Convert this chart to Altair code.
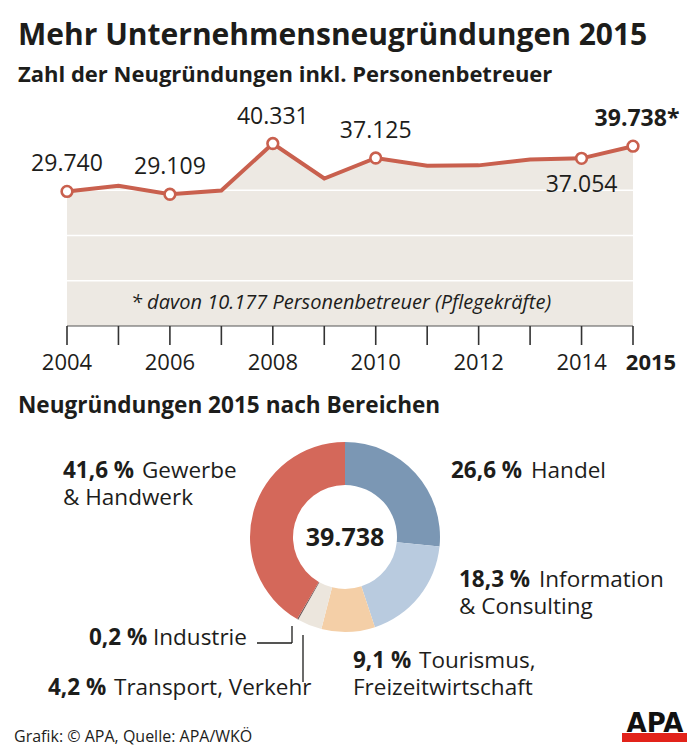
import altair as alt
import pandas as pd

# ---------------- data ----------------
years = list(range(2004, 2016))
values = [29740, 31000, 29109, 29950, 40331, 32600, 37125, 35400, 35500, 36800, 37054, 39738]
marked_years = [2004, 2006, 2008, 2010, 2014, 2015]
above_years = [2004, 2006, 2008, 2010]
above_labels = ["29.740", "29.109", "40.331", "37.125"]
below_years = [2014]
below_labels = ["37.054"]
last_year = [2015]
last_label = ["39.738*"]
tick_label_years = [2004, 2006, 2008, 2010, 2012, 2014]
tick_label_texts = ["2004", "2006", "2008", "2010", "2012", "2014"]
grid_values = [10000, 20000, 30000]

sectors = ["Handel", "Information & Consulting", "Tourismus, Freizeitwirtschaft",
           "Transport, Verkehr", "Industrie", "Gewerbe & Handwerk"]
shares = [26.6, 18.3, 9.1, 4.2, 0.2, 41.6]
share_texts = ["26,6 %", "18,3 %", "9,1 %", "4,2 %", "0,2 %", "41,6 %"]
name_line1 = ["Handel", "Information", "Tourismus,", "Transport, Verkehr", "Industrie", "Gewerbe"]
name_line2 = ["", "& Consulting", "Freizeitwirtschaft", "", "", "& Handwerk"]
sector_colors = ["#7b97b4", "#b9cbdf", "#f4cfa7", "#ece6dd", "#6a5858", "#d4685a"]
total_label = "39.738"

TITLE = "Mehr Unternehmensneugründungen 2015"
SUBTITLE = "Zahl der Neugründungen inkl. Personenbetreuer"
SECTION = "Neugründungen 2015 nach Bereichen"
FOOTNOTE = "* davon 10.177 Personenbetreuer (Pflegekräfte)"
SOURCE = "Grafik: © APA, Quelle: APA/WKÖ"

# ---------------- styles ----------------
FONT = "Open Sans"
INK = "#1d1d1b"
RED = "#c9604e"
AREA = "#ede9e3"
M = 8  # page margin


def label(text, x, y, size=23, weight="normal", align="left", style="normal", font=FONT, color=INK):
    return alt.Chart(pd.DataFrame({"t": [text]})).mark_text(
        align=align, baseline="alphabetic", fontSize=size, fontWeight=weight,
        fontStyle=style, font=font, color=color
    ).encode(x=alt.value(x - M), y=alt.value(y - M), text="t:N")


def vrule(x1, y1, x2, y2, color=INK, width=1.3):
    return alt.Chart(pd.DataFrame({"a": [0]})).mark_rule(color=color, strokeWidth=width).encode(
        x=alt.value(x1 - M), x2=alt.value(x2 - M), y=alt.value(y1 - M), y2=alt.value(y2 - M))


XS = alt.Scale(domain=[2004, 2015], range=[67 - M, 633 - M], nice=False, zero=False)
YS = alt.Scale(domain=[0, 40000], range=[326 - M, 145 - M], nice=False)

line_df = pd.DataFrame({"year": years, "value": values})
X = alt.X("year:Q", scale=XS, axis=None)
Y = alt.Y("value:Q", scale=YS, axis=None)

area = alt.Chart(line_df).mark_area(color=AREA).encode(X, Y)

grid = alt.Chart(pd.DataFrame({"v": grid_values})).mark_rule(color="white", strokeWidth=1.5).encode(
    x=alt.XDatum(2004, type="quantitative", scale=XS, axis=None),
    x2=alt.X2Datum(2015),
    y=alt.Y("v:Q", scale=YS, axis=None))

baseline = alt.Chart(pd.DataFrame({"v": [0]})).mark_rule(color="#555555", strokeWidth=1).encode(
    x=alt.XDatum(2004, type="quantitative", scale=XS, axis=None),
    x2=alt.X2Datum(2015),
    y=alt.Y("v:Q", scale=YS, axis=None))

ticks = alt.Chart(pd.DataFrame({"year": years})).mark_rule(color="#333333", strokeWidth=1.6).encode(
    x=X, y=alt.YDatum(0, type="quantitative", scale=YS, axis=None), y2=alt.value(345 - M))

line = alt.Chart(line_df).mark_line(color=RED, strokeWidth=4).encode(X, Y)

pts = alt.Chart(line_df[line_df.year.isin(marked_years)]).mark_circle(
    size=115, fill="white", stroke=RED, strokeWidth=2.6, opacity=1).encode(X, Y)

val_above = alt.Chart(pd.DataFrame({"year": above_years, "t": above_labels,
                                    "value": [values[years.index(y)] for y in above_years]})).mark_text(
    align="center", baseline="alphabetic", dy=-20, fontSize=23, font=FONT, color=INK).encode(X, Y, text="t:N")

val_below = alt.Chart(pd.DataFrame({"year": below_years, "t": below_labels,
                                    "value": [values[years.index(y)] for y in below_years]})).mark_text(
    align="center", baseline="alphabetic", dy=34, fontSize=23, font=FONT, color=INK).encode(X, Y, text="t:N")

val_last = alt.Chart(pd.DataFrame({"year": last_year, "t": last_label,
                                   "value": [values[years.index(y)] for y in last_year]})).mark_text(
    align="center", baseline="alphabetic", dy=-20, dx=4, fontSize=23, fontWeight="bold", font=FONT, color=INK
).encode(X, Y, text="t:N")

year_lbl = alt.Chart(pd.DataFrame({"year": tick_label_years, "t": tick_label_texts})).mark_text(
    align="center", baseline="alphabetic", fontSize=22, font=FONT, color=INK).encode(
    X, y=alt.value(370 - M), text="t:N")

year_last = alt.Chart(pd.DataFrame({"year": last_year, "t": ["2015"]})).mark_text(
    align="center", baseline="alphabetic", dx=18, fontSize=22, fontWeight="bold", font=FONT, color=INK).encode(
    X, y=alt.value(370 - M), text="t:N")

# ---------------- donut ----------------
donut_df = pd.DataFrame({"sector": sectors, "share": shares, "idx": list(range(len(sectors)))})
donut = alt.Chart(donut_df).mark_arc(innerRadius=52, outerRadius=95).encode(
    theta=alt.Theta("share:Q", stack=True),
    color=alt.Color("sector:N", scale=alt.Scale(domain=sectors, range=sector_colors), legend=None),
    order=alt.Order("idx:Q"),
    x=alt.value(345 - M), y=alt.value(537 - M))

center = label(total_label, 345, 546, size=25, weight="bold", align="center")

# label anchor positions (page px): bold share start, name start, first baseline
pos = {
    "Handel": (451, 531, 478),
    "Information & Consulting": (459, 539, 587),
    "Tourismus, Freizeitwirtschaft": (353, 419, 668),
    "Transport, Verkehr": (48, 114, 695),
    "Industrie": (89, 153, 645),
    "Gewerbe & Handwerk": (63, 142, 478),
}
donut_labels = []
for s, pt, n1, n2 in zip(sectors, share_texts, name_line1, name_line2):
    bx, nx, by = pos[s]
    donut_labels.append(label(pt, bx, by, size=22.5, weight="bold"))
    donut_labels.append(label(n1, nx, by, size=22.5))
    if n2:
        donut_labels.append(label(n2, bx, by + 27, size=22.5))

leaders = [
    vrule(257, 643, 292, 643),
    vrule(292, 643, 292, 626),
    vrule(303, 635, 303, 682),
]

# ---------------- texts ----------------
texts = [
    label(TITLE, 18, 45, size=30, weight="bold"),
    label(SUBTITLE, 18, 82, size=22, weight="bold"),
    label(FOOTNOTE, 341, 309, size=20, style="italic", align="center"),
    label(SECTION, 18, 413, size=22.6, weight="bold"),
    label(SOURCE, 14, 742, size=16),
]

logo_bar = alt.Chart(pd.DataFrame({"a": [0]})).mark_rect(color="#e2231a").encode(
    x=alt.value(622 - M), x2=alt.value(687 - M), y=alt.value(733 - M), y2=alt.value(742 - M))
logo_txt = label("APA", 655, 732, size=26, weight="bold", align="center", font="DejaVu Sans", color="#111111")

chart = alt.layer(
    area, grid, baseline, ticks, line, pts, val_above, val_below, val_last, year_lbl, year_last,
    donut, center, *donut_labels, *leaders, *texts, logo_bar, logo_txt
).properties(
    width=700 - 2 * M, height=755 - 2 * M, padding=0,
    autosize=alt.AutoSizeParams(type="none"), background="white"
).configure_view(strokeWidth=0)

chart.save("out.html", embed_options={"renderer": "svg", "actions": False})
